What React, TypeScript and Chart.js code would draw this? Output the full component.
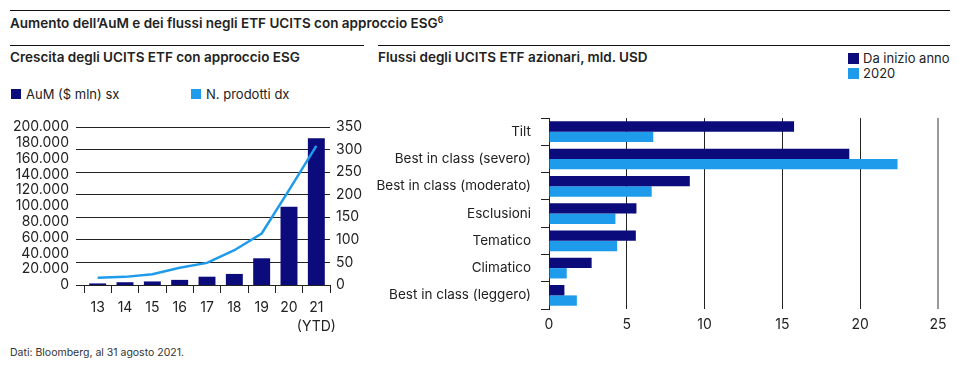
import React, { useEffect, useRef } from 'react';
import { Chart, registerables } from 'chart.js';

Chart.register(...registerables);

// ---------- data ----------
const yearLabels: (string | string[])[] = ['13', '14', '15', '16', '17', '18', '19', '20', ['21', '(YTD)']];
const aumValues = [2000, 3500, 4500, 6500, 10500, 14000, 33800, 99000, 185700];
const productCounts = [16, 18, 24, 38, 49, 77, 114, 210, 308];
const leftSeriesLabels = ['AuM ($ mln) sx', 'N. prodotti dx'];

const flowCategories = [
  'Tilt',
  'Best in class (severo)',
  'Best in class (moderato)',
  'Esclusioni',
  'Tematico',
  'Climatico',
  'Best in class (leggero)',
];
const ytdFlows = [15.75, 19.3, 9.05, 5.62, 5.58, 2.74, 0.99];
const flows2020 = [6.7, 22.4, 6.6, 4.27, 4.38, 1.14, 1.79];
const rightSeriesLabels = ['Da inizio anno', '2020'];

const mainTitle = 'Aumento dell’AuM e dei flussi negli ETF UCITS con approccio ESG';
const leftTitle = 'Crescita degli UCITS ETF con approccio ESG';
const rightTitle = 'Flussi degli UCITS ETF azionari, mld. USD';
const footnote = 'Dati: Bloomberg, al 31 agosto 2021.';

// ---------- style ----------
const FONT = 'Inter, "Liberation Sans", Arial, sans-serif';
const DARK = '#0b0b7c';
const LIGHT = '#1e9bea';
const INK = '#222222';

function fmtIt(v: number): string {
  return String(v).replace(/\B(?=(\d{3})+(?!\d))/g, '.');
}

const abs = (s: React.CSSProperties): React.CSSProperties => ({ position: 'absolute', ...s });

export default function App() {
  const leftRef = useRef<HTMLCanvasElement>(null);
  const rightRef = useRef<HTMLCanvasElement>(null);

  useEffect(() => {
    const tickFont = { family: FONT, size: 14 };
    const left = new Chart(leftRef.current!, {
      type: 'bar',
      data: {
        labels: yearLabels as any,
        datasets: [
          {
            type: 'line',
            label: leftSeriesLabels[1],
            data: productCounts,
            yAxisID: 'y1',
            borderColor: LIGHT,
            borderWidth: 2.5,
            pointRadius: 0,
            tension: 0,
            order: 0,
          } as any,
          {
            type: 'bar',
            label: leftSeriesLabels[0],
            data: aumValues,
            yAxisID: 'y',
            backgroundColor: DARK,
            barPercentage: 0.62,
            categoryPercentage: 1,
            order: 1,
          },
        ],
      },
      options: {
        responsive: false,
        animation: false,
        layout: { padding: { top: 27, left: 0, right: 0, bottom: 0 } },
        plugins: { legend: { display: false }, tooltip: { enabled: false } },
        scales: {
          x: {
            position: 'bottom',
            grid: { display: true, drawOnChartArea: false, drawTicks: true, tickLength: 8, offset: true, color: INK },
            border: { display: true, color: INK },
            ticks: { font: { ...tickFont, lineHeight: 1.3 }, color: INK, padding: 6, maxRotation: 0, autoSkip: false },
            afterFit: (s: any) => { s.height = 55; },
          },
          y: {
            position: 'left',
            weight: 1,
            min: 0,
            max: 200000,
            ticks: {
              stepSize: 20000,
              autoSkip: false,
              callback: (v: any) => fmtIt(Number(v)),
              font: tickFont,
              color: INK,
              padding: 7,
            },
            grid: { display: false, drawTicks: false },
            border: { display: false },
            afterFit: (s: any) => { s.width = 76; },
          },
          yMarks: {
            position: 'left',
            weight: 0,
            min: 0,
            max: 350,
            ticks: { stepSize: 50, display: false },
            grid: { display: true, drawOnChartArea: false, drawTicks: true, tickLength: 8, color: INK },
            border: { display: false },
            afterFit: (s: any) => { s.width = 8; },
          },
          y1: {
            position: 'right',
            min: 0,
            max: 350,
            ticks: { stepSize: 50, autoSkip: false, font: tickFont, color: INK, padding: 6 },
            grid: { display: true, drawOnChartArea: true, drawTicks: false, color: INK },
            border: { display: false },
            afterFit: (s: any) => { s.width = 35; },
          },
        } as any,
      },
    });

    const right = new Chart(rightRef.current!, {
      type: 'bar',
      data: {
        labels: flowCategories,
        datasets: [
          { label: rightSeriesLabels[0], data: ytdFlows, backgroundColor: DARK, categoryPercentage: 0.76, barPercentage: 1 },
          { label: rightSeriesLabels[1], data: flows2020, backgroundColor: LIGHT, categoryPercentage: 0.76, barPercentage: 1 },
        ],
      },
      options: {
        indexAxis: 'y',
        responsive: false,
        animation: false,
        layout: { padding: { top: 15, right: 25, left: 0, bottom: 0 } },
        plugins: { legend: { display: false }, tooltip: { enabled: false } },
        scales: {
          y: {
            grid: { display: true, drawOnChartArea: false, drawTicks: true, tickLength: 8, offset: true, color: INK },
            border: { display: true, color: INK },
            ticks: { font: { family: FONT, size: 13.5 }, color: INK, padding: 10, autoSkip: false },
            afterFit: (s: any) => { s.width = 184; },
          },
          x: {
            min: 0,
            max: 25,
            ticks: { stepSize: 5, font: tickFont, color: INK, padding: 7 },
            grid: {
              drawTicks: false,
              color: (c: any) => (c.tick && c.tick.value === 25 ? '#9a9a9a' : INK),
              lineWidth: (c: any) => (c.tick && c.tick.value === 25 ? 2 : 1),
            },
            border: { display: false },
            afterFit: (s: any) => { s.height = 31; },
          },
        } as any,
      },
    });

    return () => {
      left.destroy();
      right.destroy();
    };
  }, []);

  const text: React.CSSProperties = { fontFamily: FONT, color: INK, whiteSpace: 'nowrap', lineHeight: '16px' };
  const sq = (color: string, x: number, y: number, size = 10) =>
    <div style={abs({ left: x, top: y, width: size, height: size, background: color })} />;

  return (
    <div style={abs({ left: 0, top: 0, width: 963, height: 367, background: '#fff', overflow: 'hidden' })}>
      {/* rules */}
      <div style={abs({ left: 10, top: 10, width: 940, height: 1, background: '#111' })} />
      <div style={abs({ left: 10, top: 45, width: 354, height: 1, background: '#111' })} />
      <div style={abs({ left: 378, top: 45, width: 572, height: 1, background: '#111' })} />

      {/* titles */}
      <div style={abs({ ...text, left: 10, top: 15, fontSize: 13.5, fontWeight: 600 })}>
        {mainTitle}<sup style={{ fontSize: 8.5, verticalAlign: 'top', position: 'relative', top: -3 }}>6</sup>
      </div>
      <div style={abs({ ...text, left: 10, top: 49, fontSize: 13.5, fontWeight: 600 })}>{leftTitle}</div>
      <div style={abs({ ...text, left: 378, top: 49, fontSize: 13.5, fontWeight: 600 })}>{rightTitle}</div>

      {/* left legend */}
      {sq(DARK, 11, 89)}
      <div style={abs({ ...text, left: 26, top: 86, fontSize: 13 })}>{leftSeriesLabels[0]}</div>
      {sq(LIGHT, 191, 89)}
      <div style={abs({ ...text, left: 206, top: 86, fontSize: 13 })}>{leftSeriesLabels[1]}</div>

      {/* right legend */}
      {sq(DARK, 848, 53, 11)}
      <div style={abs({ ...text, left: 863, top: 50, fontSize: 13 })}>{rightSeriesLabels[0]}</div>
      {sq(LIGHT, 848, 68, 11)}
      <div style={abs({ ...text, left: 863, top: 65, fontSize: 13 })}>{rightSeriesLabels[1]}</div>

      {/* charts */}
      <canvas ref={leftRef} width={365} height={240} style={abs({ left: 0, top: 100, width: 365, height: 240 })} />
      <canvas ref={rightRef} width={598} height={240} style={abs({ left: 365, top: 100, width: 598, height: 240 })} />

      {/* footnote */}
      <div style={abs({ ...text, left: 10, top: 345, fontSize: 10.5, color: '#333' })}>{footnote}</div>
    </div>
  );
}
